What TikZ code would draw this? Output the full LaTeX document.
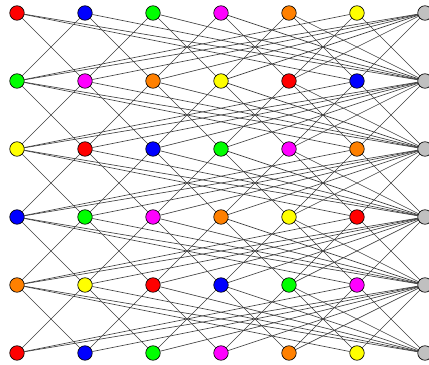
\documentclass[tikz,border=0pt]{standalone}
\usetikzlibrary{backgrounds}

\definecolor{c0}{RGB}{255,0,0}
\definecolor{c1}{RGB}{0,0,255}
\definecolor{c2}{RGB}{0,255,0}
\definecolor{c3}{RGB}{255,0,255}
\definecolor{c4}{RGB}{255,128,0}
\definecolor{c5}{RGB}{255,255,0}
\definecolor{hub}{RGB}{192,192,192}

\tikzset{
  vert/.style={circle, draw=black, line width=0.65bp, minimum size=14.5bp, inner sep=0pt},
  link/.style={draw=black!75, line width=0.65bp}
}

\begin{document}
\begin{tikzpicture}[x=68bp, y=-68bp]
        \useasboundingbox (-0.25,-0.191) rectangle (6.059,5.176);

        % Coloured vertices, each row a shifted copy of the colour list
        \foreach \r/\s in {0/0,1/2,2/5,3/1,4/4,5/0} {
            \foreach \c in {0,...,5} {
                \pgfmathtruncatemacro{\k}{mod(\c+\s,6)}
                \node[vert, fill=c\k] (v\r-\c) at (\c,\r) {};
            }
            \node[vert, fill=hub] (v\r-6) at (6,\r) {};
        }

        % Edges behind the vertices
        \begin{scope}[on background layer]
            \foreach \r in {0,...,4} {
                \pgfmathtruncatemacro{\q}{\r+1}
                \foreach \c in {0,...,4} {
                    \pgfmathtruncatemacro{\d}{\c+1}
                    \draw[link] (v\r-\c) -- (v\q-\d);
                    \draw[link] (v\r-\d) -- (v\q-\c);
                }
                \foreach \c in {0,...,5} {
                    \draw[link] (v\r-\c) -- (v\q-6);
                    \draw[link] (v\q-\c) -- (v\r-6);
                }
                \draw[link] (v\r-0) -- (v\q-5);
                \draw[link] (v\q-0) -- (v\r-5);
            }
        \end{scope}
    \end{tikzpicture}
\end{document}
